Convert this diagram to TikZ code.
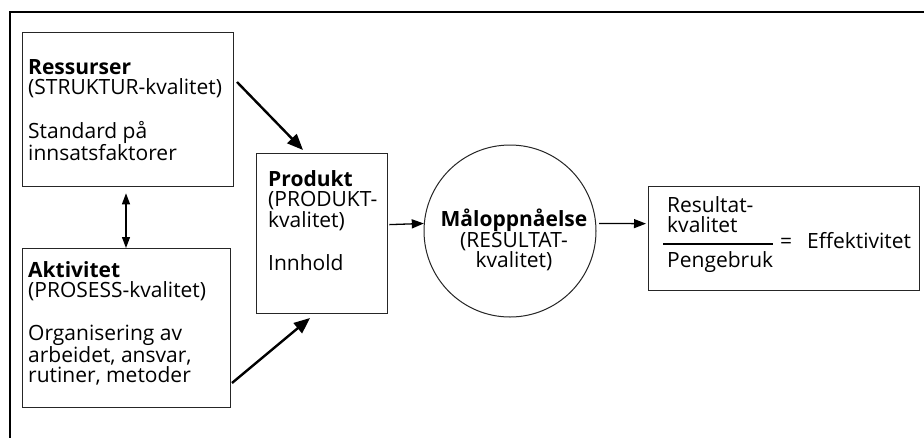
\documentclass[tikz,border=0pt]{standalone}
\usepackage{fontspec}
\setmainfont{Open Sans}
\usetikzlibrary{arrows.meta}
\begin{document}
\begin{tikzpicture}[x=1pt,y=-1pt,
  box/.style={draw=black!85,line width=1.3pt,inner sep=0pt,anchor=north west},
  txt/.style={inner sep=0pt,anchor=north west,align=left,font=\fontsize{21}{20.5}\selectfont},
  ctxt/.style={inner sep=0pt,align=center,font=\fontsize{21}{20.5}\selectfont},
  thick arrow/.style={line width=2.4pt,-{Triangle[length=16pt,width=13pt]}},
  thin arrow/.style={line width=1.3pt,-{Triangle[length=12pt,width=9pt]}},
  both arrow/.style={line width=1.3pt,{Triangle[length=11pt,width=8pt]}-{Triangle[length=11pt,width=8pt]}}]
\useasboundingbox (0,0) rectangle (924,437);
\fill[white] (0,0) rectangle (924,437);
% outer frame, running off the right and bottom edges
\draw[line width=2pt] (10,445) -- (10,12) -- (935,12);

% boxes
\node[box,minimum width=211pt,minimum height=154pt] (res) at (22,32) {};
\node[box,minimum width=208pt,minimum height=159pt] (akt) at (22,248) {};
\node[box,minimum width=131pt,minimum height=160pt] (prod) at (256,153) {};
\node[draw=black!85,line width=1pt,circle,minimum size=172pt,inner sep=0pt] (maal) at (510,231) {};
\node[box,minimum width=271pt,minimum height=104pt] (eff) at (648,186) {};

% texts
\node[txt] (restxt) at (28,59) {\textbf{Ressurser}\\(STRUKTUR-kvalitet)\\[23pt]Standard på\\innsatsfaktorer};
\node[txt] (akttxt) at (28,261) {\textbf{Aktivitet}\\(PROSESS-kvalitet)\\[22pt]Organisering av\\arbeidet, ansvar,\\rutiner, metoder};
\node[txt] (prodtxt) at (268,170) {\textbf{Produkt}\\(PRODUKT-\\kvalitet)\\[23pt]Innhold};
\node[ctxt,anchor=north] (maaltxt) at (514,209) {\textbf{Måloppnåelse}\\(RESULTAT-\\kvalitet)};

% efficiency formula
\node[txt] (teller) at (667,196) {Resultat-\\kvalitet};
\node[txt] (nevner) at (667,251) {Pengebruk};
\coordinate (brA) at (663,244);
\coordinate (brB) at (773,244);
\draw[line width=1.2pt] (brA) -- (brB);
\node[ctxt,anchor=base west] (lik) at (780,248) {=};
\node[ctxt,anchor=base west] (effekt) at (807,248) {Effektivitet};

% connectors
\coordinate (resut) at (237,82);
\coordinate (prodinn1) at (303,150);
\coordinate (aktut) at (232,383);
\coordinate (prodinn2) at (310,318);
\draw[thick arrow] (resut) -- (prodinn1);
\draw[thick arrow] (aktut) -- (prodinn2);
\draw[both arrow] ([yshift=-6pt]res.south -| 126,0) -- (akt.north -| 126,0);
\draw[thin arrow,shorten <=1pt] ([yshift=9pt]prod.east) -- (maal.175);
\draw[thin arrow,shorten <=3pt] (maal.5) -- ([yshift=15pt,xshift=-2pt]eff.west);
\end{tikzpicture}
\end{document}
